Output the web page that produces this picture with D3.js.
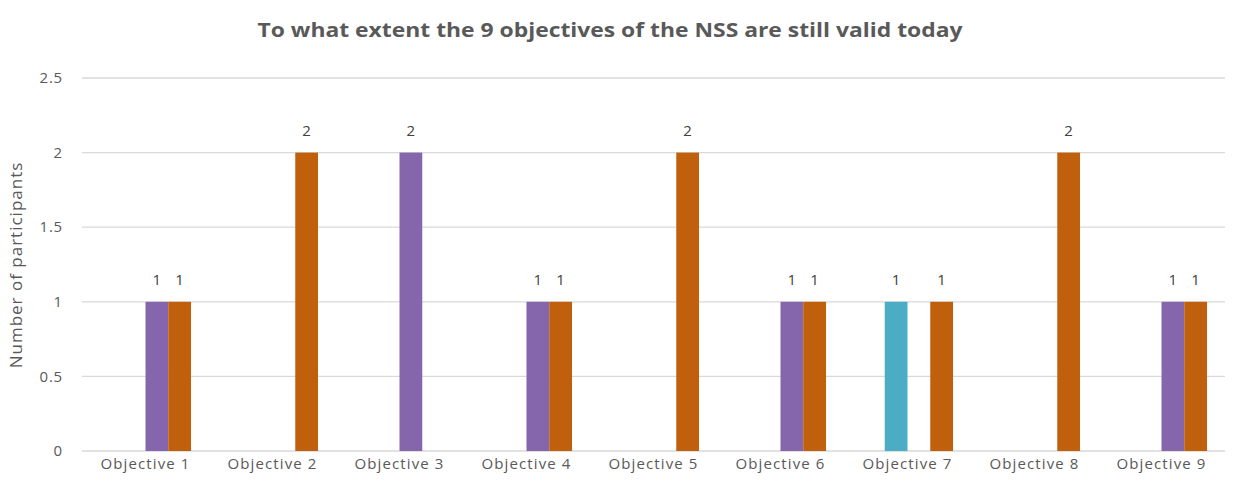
<!DOCTYPE html>
<html>
<head>
<meta charset="utf-8">
<script src="https://cdn.jsdelivr.net/npm/d3@7"></script>
<style>
  body { margin: 0; background: #fff; }
  text { font-family: "Open Sans", "Noto Sans", sans-serif; }
</style>
</head>
<body>
<svg id="main-svg"></svg>
<script>
// chart values
var categories = ["Objective 1", "Objective 2", "Objective 3", "Objective 4", "Objective 5",
  "Objective 6", "Objective 7", "Objective 8", "Objective 9"];
var seriesNames = ["Series 1", "Series 2", "Series 3", "Series 4"];
var series1 = [null, null, null, null, null, null, null, null, null];
var series2 = [null, null, null, null, null, null, 1, null, null];
var series3 = [1, null, 2, 1, null, 1, null, null, 1];
var series4 = [1, 2, null, 1, 2, 1, 1, 2, 1];
var yTicks = [0, 0.5, 1, 1.5, 2, 2.5];
var colors = ["#4f81bd", "#4bacc6", "#8566ac", "#c0600c"];

var width = 1235,
  height = 495,
  plotLeft = 82,
  plotRight = 1225,
  plotTop = 78,
  plotBottom = 451;

var svg = d3.select("#main-svg").attr("width", width).attr("height", height);

var allSeries = [series1, series2, series3, series4];

var x = d3.scaleBand().domain(categories).range([plotLeft, plotRight]).paddingInner(0).paddingOuter(0);
var groupW = x.bandwidth() * 0.717;
var xs = d3.scaleBand().domain(seriesNames).range([0, groupW]);
var y = d3.scaleLinear().domain([0, 2.5]).range([plotBottom, plotTop]);

// gridlines
svg.append("g").selectAll("line").data(yTicks).enter().append("line")
  .attr("x1", plotLeft).attr("x2", plotRight)
  .attr("y1", function (d) { return y(d) }).attr("y2", function (d) { return y(d) })
  .attr("stroke", "#d9d9d9").attr("stroke-width", 1.3);

// y tick labels
svg.append("g").selectAll("text").data(yTicks).enter().append("text")
  .attr("x", 63).attr("y", function (d) { return y(d) })
  .attr("dy", "0.35em").attr("text-anchor", "end")
  .attr("font-size", 15).attr("letter-spacing", 0.8).attr("fill", "#595959")
  .text(function (d) { return d });

// x category labels
svg.append("g").selectAll("text").data(categories).enter().append("text")
  .attr("x", function (d) { return x(d) + x.bandwidth() / 2 }).attr("y", 469)
  .attr("text-anchor", "middle").attr("font-size", 15).attr("letter-spacing", 1.1).attr("fill", "#595959")
  .text(function (d) { return d });

// bars + labels
var bars = [];
allSeries.forEach(function (s, si) {
  s.forEach(function (v, ci) {
    if (v != null) bars.push({ cat: categories[ci], s: seriesNames[si], v: v, c: colors[si] });
  });
});

function bx(d) {
  return x(d.cat) + (x.bandwidth() - groupW) / 2 + xs(d.s);
}

svg.append("g").selectAll("rect").data(bars).enter().append("rect")
  .attr("x", bx).attr("width", xs.bandwidth())
  .attr("y", function (d) { return y(d.v) }).attr("height", function (d) { return y(0) - y(d.v) })
  .attr("fill", function (d) { return d.c });

svg.append("g").selectAll("text").data(bars).enter().append("text")
  .attr("x", function (d) { return bx(d) + xs.bandwidth() / 2 })
  .attr("y", function (d) { return y(d.v) - 17 })
  .attr("text-anchor", "middle").attr("font-size", 15).attr("fill", "#404040")
  .text(function (d) { return d.v });

// title
svg.append("text").attr("x", 610).attr("y", 37).attr("text-anchor", "middle")
  .attr("font-size", 19).attr("font-weight", "bold").attr("fill", "#595959")
  .attr("textLength", 705).attr("lengthAdjust", "spacingAndGlyphs")
  .text("To what extent the 9 objectives of the NSS are still valid today");

// y axis title
svg.append("text").attr("transform", "translate(22,265) rotate(-90)")
  .attr("text-anchor", "middle").attr("font-size", 17).attr("letter-spacing", 1).attr("fill", "#595959")
  .text("Number of participants");
</script>
</body>
</html>
